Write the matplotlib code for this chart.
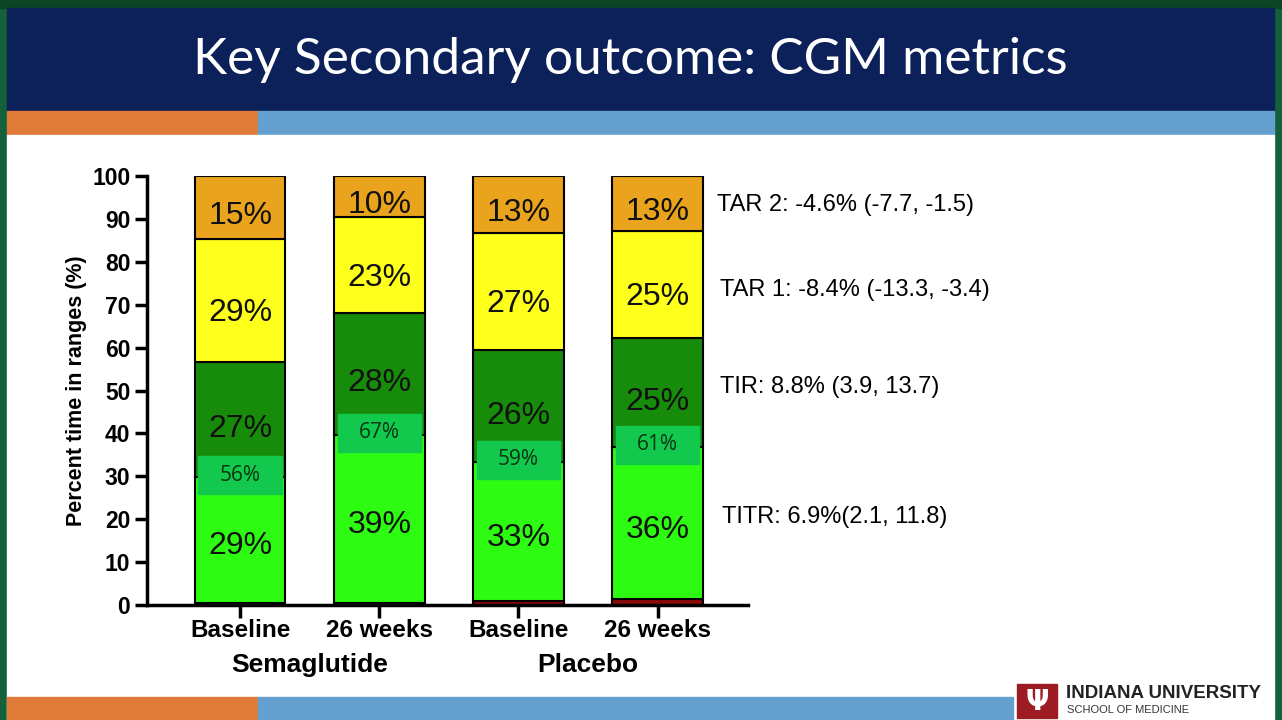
import matplotlib.pyplot as plt
from matplotlib.patches import Rectangle

# data (percent of time, stacked bottom -> top)
groups = ["Semaglutide", "Placebo"]
timepoints = ["Baseline", "26 weeks", "Baseline", "26 weeks"]
tbr = [0.5, 0.5, 1.0, 1.3]           # below range (thin dark red strip)
titr = [29.3, 39.1, 32.3, 35.5]      # time in tight range
tir_rest = [26.8, 28.5, 26.1, 25.4]  # rest of time in range
tar1 = [28.7, 22.3, 27.3, 25.0]
tar2 = [14.7, 9.6, 13.3, 12.8]

titr_lbl = ["29%", "39%", "33%", "36%"]
tir_rest_lbl = ["27%", "28%", "26%", "25%"]
tar1_lbl = ["29%", "23%", "27%", "25%"]
tar2_lbl = ["15%", "10%", "13%", "13%"]
tir_total_lbl = ["56%", "67%", "59%", "61%"]

effects = ["TAR 2: -4.6% (-7.7, -1.5)", "TAR 1: -8.4% (-13.3, -3.4)",
           "TIR: 8.8% (3.9, 13.7)", "TITR: 6.9%(2.1, 11.8)"]

W, H = 1282, 720
fig = plt.figure(figsize=(W / 100, H / 100), dpi=100, facecolor="#14603a")

# slide background in pixel coordinates
bg = fig.add_axes([0, 0, 1, 1])
bg.set_xlim(0, W)
bg.set_ylim(H, 0)
bg.axis("off")
bg.add_patch(Rectangle((0, 0), W, 8, color="#0a4526"))
bg.add_patch(Rectangle((7, 8), 1267, 103, color="#0c2159"))
bg.add_patch(Rectangle((7, 111), 251, 24, color="#e07a38"))
bg.add_patch(Rectangle((258, 111), 1016, 24, color="#64a0cf"))
bg.add_patch(Rectangle((7, 135), 1267, 585, color="white"))
bg.add_patch(Rectangle((7, 697), 251, 23, color="#e07a38"))
bg.add_patch(Rectangle((258, 697), 755, 23, color="#64a0cf"))
bg.text(630, 60, "Key Secondary outcome: CGM metrics", color="white",
        fontsize=37, family="Lato", ha="center", va="center")

# logo
bg.add_patch(Rectangle((1017, 684), 40, 34, color="#9d1b22"))
bg.text(1037, 702, "Ψ", color="white", fontsize=20, fontweight="bold",
        ha="center", va="center", family="DejaVu Sans")
bg.text(1066, 694, "INDIANA UNIVERSITY", fontsize=13.5, fontweight="bold",
        family="Liberation Sans", color="#222222", va="center")
bg.text(1067, 710, "SCHOOL OF MEDICINE", fontsize=8,
        family="Liberation Sans", color="#333333", va="center")

# right-hand effect estimates
eff_pos = [(717, 205), (720, 290), (720, 387), (722, 517)]
for (ex, ey), t in zip(eff_pos, effects):
    bg.text(ex, ey, t, fontsize=17, family="Liberation Sans", va="center")

# chart
ax = fig.add_axes([147 / W, (H - 605) / H, (748 - 147) / W, (605 - 176) / H])
x = list(range(len(timepoints)))
bw = 0.65
edge = dict(edgecolor="black", linewidth=1.5)

b0 = tbr
b1 = [a + b for a, b in zip(b0, titr)]
b2 = [a + b for a, b in zip(b1, tir_rest)]
b3 = [a + b for a, b in zip(b2, tar1)]

ax.bar(x, tbr, bw, color="#8b0a0a", **edge)
ax.bar(x, titr, bw, bottom=b0, color="#2dfc12", **edge)
ax.bar(x, tir_rest, bw, bottom=b1, color="#178c0a", **edge)
ax.bar(x, tar1, bw, bottom=b2, color="#ffff1c", **edge)
ax.bar(x, tar2, bw, bottom=b3, color="#e9a31c", **edge)

lblfont = dict(fontsize=23, family="Liberation Sans", ha="center",
               va="center", color="#111111")
for i in x:
    ax.text(i, b0[i] + titr[i] / 2 - 1.5, titr_lbl[i], **lblfont)
    ax.text(i, b1[i] + tir_rest[i] / 2 - 2.2, tir_rest_lbl[i], **lblfont)
    ax.text(i, b2[i] + tar1[i] / 2 - 3, tar1_lbl[i], **lblfont)
    ax.text(i, b3[i] + tar2[i] / 2 - 2, tar2_lbl[i], **lblfont)
    # overall TIR box sitting on the TITR/TIR boundary
    ax.add_patch(Rectangle((i - 0.3, b1[i] - 4), 0.6, 9, color="#12c94e",
                           zorder=3))
    ax.text(i, b1[i] + 0.5, tir_total_lbl[i], fontsize=15, family="Open Sans",
            ha="center", va="center", color="#0b3512", zorder=4)

ax.set_xlim(-0.67, 3.65)
ax.set_ylim(0, 100)
ax.set_yticks(range(0, 101, 10))
ax.set_xticks(x)
ax.set_xticklabels(timepoints, fontsize=17.5, fontweight="bold",
                   family="Liberation Sans")
for lab in ax.get_yticklabels():
    lab.set_fontsize(16.5)
    lab.set_fontweight("bold")
    lab.set_family("Liberation Sans")
ax.set_ylabel("Percent time in ranges (%)", fontsize=15.5, fontweight="bold",
              family="Liberation Sans", labelpad=4)
ax.spines["top"].set_visible(False)
ax.spines["right"].set_visible(False)
ax.spines["left"].set_linewidth(2.5)
ax.spines["bottom"].set_linewidth(2.5)
ax.tick_params(width=2.5, length=9, pad=3)
ax.tick_params(axis="x", pad=1)
ax.set_facecolor("none")

for gi, g in enumerate(groups):
    ax.text(gi * 2 + 0.5, -14, g, fontsize=19, fontweight="bold",
            family="Liberation Sans", ha="center", va="center")

fig.savefig("out.png", dpi=100, facecolor=fig.get_facecolor())
